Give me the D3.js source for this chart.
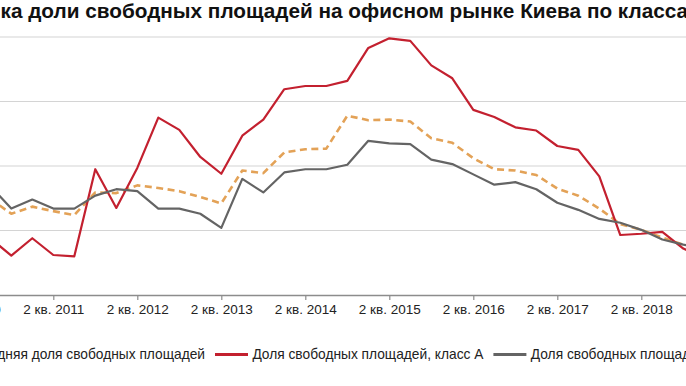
<!DOCTYPE html>
<html>
<head>
<meta charset="utf-8">
<script src="https://cdn.jsdelivr.net/npm/d3@7"></script>
<style>
  body { margin: 0; background: #fff; }
  svg { display: block; }
</style>
</head>
<body>
<div id="chart"></div>
<script>
// Кварталы (левый край графика обрезан, первое значение не видно)
const quarters = [
  "2 кв. 2010", "3 кв. 2010", "4 кв. 2010",
  "1 кв. 2011", "2 кв. 2011", "3 кв. 2011", "4 кв. 2011",
  "1 кв. 2012", "2 кв. 2012", "3 кв. 2012", "4 кв. 2012",
  "1 кв. 2013", "2 кв. 2013", "3 кв. 2013", "4 кв. 2013",
  "1 кв. 2014", "2 кв. 2014", "3 кв. 2014", "4 кв. 2014",
  "1 кв. 2015", "2 кв. 2015", "3 кв. 2015", "4 кв. 2015",
  "1 кв. 2016", "2 кв. 2016", "3 кв. 2016", "4 кв. 2016",
  "1 кв. 2017", "2 кв. 2017", "3 кв. 2017", "4 кв. 2017",
  "1 кв. 2018", "2 кв. 2018", "3 кв. 2018", "4 кв. 2018",
  "1 кв. 2019"
];

// Средняя доля свободных площадей, %
const avgVacancy = [
  null, 14.9, 12.6,
  13.7, 13.0, 12.4, 15.9,
  15.8, 17.0, 16.6, 16.1,
  15.2, 14.2, 19.3, 18.9,
  22.1, 22.6, 22.7, 27.8,
  27.1, 27.2, 26.9, 24.3,
  23.6, 21.2, 19.5, 19.3,
  18.6, 16.5, 15.4, 13.4,
  11.0, 10.1, 8.9, 7.8,
  7.4
];

// Доля свободных площадей, класс А, %
const classA = [
  null, 8.8, 6.1,
  8.8, 6.2, 6.0, 19.5,
  13.5, 19.7, 27.5, 25.6,
  21.4, 18.8, 24.7, 27.2,
  31.9, 32.4, 32.4, 33.2,
  38.3, 39.8, 39.4, 35.6,
  33.6, 28.7, 27.6, 26.0,
  25.5, 23.1, 22.5, 18.4,
  9.3, 9.5, 9.8, 7.2,
  5.7
];

// Доля свободных площадей, класс В, %
const classB = [
  null, 16.9, 13.4,
  14.8, 13.4, 13.4, 15.4,
  16.4, 16.1, 13.4, 13.4,
  12.6, 10.4, 18.0, 15.9,
  19.0, 19.5, 19.5, 20.2,
  23.9, 23.5, 23.4, 21.0,
  20.3, 18.7, 17.1, 17.5,
  16.4, 14.3, 13.2, 11.8,
  11.2, 10.1, 8.6, 7.8,
  7.4
];

const tickLabels = [
  "2 кв. 2010", "2 кв. 2011", "2 кв. 2012", "2 кв. 2013", "2 кв. 2014",
  "2 кв. 2015", "2 кв. 2016", "2 кв. 2017", "2 кв. 2018"
];
const yTicks = [10, 20, 30, 40];

const titleText = "Динамика доли свободных площадей на офисном рынке Киева по классам";
const seriesNames = [
  "Средняя доля свободных площадей",
  "Доля свободных площадей, класс А",
  "Доля свободных площадей, класс В"
];

const W = 686, H = 386;
const FONT = "'Liberation Sans', Arial, sans-serif";

const svg = d3.select("#chart").append("svg")
  .attr("width", W)
  .attr("height", H);

// подбираем размер шрифта по ширине текста
function fitSize(txt, weight, target) {
  const t = svg.append("text")
    .style("font-family", FONT)
    .style("font-weight", weight)
    .style("font-size", "20px")
    .text(txt);
  const w = t.node().getComputedTextLength();
  t.remove();
  return 20 * target / w;
}
function textWidth(txt, weight, size) {
  const t = svg.append("text")
    .style("font-family", FONT)
    .style("font-weight", weight)
    .style("font-size", size + "px")
    .text(txt);
  const w = t.node().getComputedTextLength();
  t.remove();
  return w;
}

// шкалы: область графика уходит за левый край картинки
const step = 21;
const x = d3.scalePoint()
  .domain(quarters)
  .range([-30.7, -30.7 + step * (quarters.length - 1)]);

const y = d3.scaleLinear()
  .domain([0, 40])
  .range([295, 37]);

// заголовок
const titleSize = fitSize("ка доли свободных площадей на офисном рынке Киева по класс", "bold", 676);
const titleShift = textWidth("Динами", "bold", titleSize);
svg.append("text")
  .attr("x", 0.5 - titleShift)
  .attr("y", 17.5)
  .style("font-family", FONT)
  .style("font-weight", "bold")
  .style("font-size", titleSize + "px")
  .style("fill", "#111")
  .text(titleText);

// горизонтальная сетка
svg.append("g")
  .selectAll("line")
  .data(yTicks)
  .join("line")
  .attr("x1", -40)
  .attr("x2", W + 40)
  .attr("y1", d => y(d))
  .attr("y2", d => y(d))
  .attr("stroke", "#d4d4d4")
  .attr("stroke-width", 1.2);

// ось X
const labelSize = fitSize("2 кв. 2011", "normal", 61);
const xAxis = svg.append("g")
  .attr("transform", `translate(0,${y(0)})`)
  .call(d3.axisBottom(x)
    .tickValues(tickLabels)
    .tickSize(5)
    .tickSizeOuter(0)
    .tickPadding(4));
xAxis.select(".domain").attr("stroke", "#8c8c8c").attr("stroke-width", 1.3);
xAxis.selectAll(".tick line").attr("stroke", "#8c8c8c").attr("stroke-width", 1.2);
xAxis.selectAll(".tick text")
  .style("font-family", FONT)
  .style("font-size", labelSize + "px")
  .style("fill", "#222");

// линии
const series = [
  { name: seriesNames[0], values: avgVacancy, color: "#e3a257", width: 2.6, dash: "7,4.5" },
  { name: seriesNames[1], values: classA, color: "#c3202f", width: 2.2, dash: null },
  { name: seriesNames[2], values: classB, color: "#646464", width: 2.2, dash: null }
];

const line = d3.line()
  .defined(d => d[1] != null)
  .x(d => x(d[0]))
  .y(d => y(d[1]));

svg.append("g")
  .selectAll("path")
  .data(series)
  .join("path")
  .attr("d", s => line(quarters.map((q, i) => [q, s.values[i]])))
  .attr("fill", "none")
  .attr("stroke", s => s.color)
  .attr("stroke-width", s => s.width)
  .attr("stroke-dasharray", s => s.dash)
  .attr("stroke-linejoin", "round");

// легенда
const legendSize = fitSize(seriesNames[1], "normal", 231);
const widths = seriesNames.map(n => textWidth(n, "normal", legendSize));
const sampleLen = 33, sampleGap = 4.4, itemGap = 10;
const legendX = [];
legendX[1] = 215;
legendX[2] = legendX[1] + sampleLen + sampleGap + widths[1] + itemGap;
legendX[0] = legendX[1] - itemGap - widths[0] - sampleGap - sampleLen;

const legend = svg.append("g")
  .selectAll("g")
  .data(series)
  .join("g")
  .attr("transform", (d, i) => `translate(${legendX[i]},354.5)`);

legend.append("line")
  .attr("x1", 0)
  .attr("x2", sampleLen)
  .attr("stroke", d => d.color)
  .attr("stroke-width", 3)
  .attr("stroke-dasharray", d => d.dash);

legend.append("text")
  .attr("x", sampleLen + sampleGap)
  .attr("y", 4.6)
  .style("font-family", FONT)
  .style("font-size", legendSize + "px")
  .style("fill", "#222")
  .text(d => d.name);
</script>
</body>
</html>
